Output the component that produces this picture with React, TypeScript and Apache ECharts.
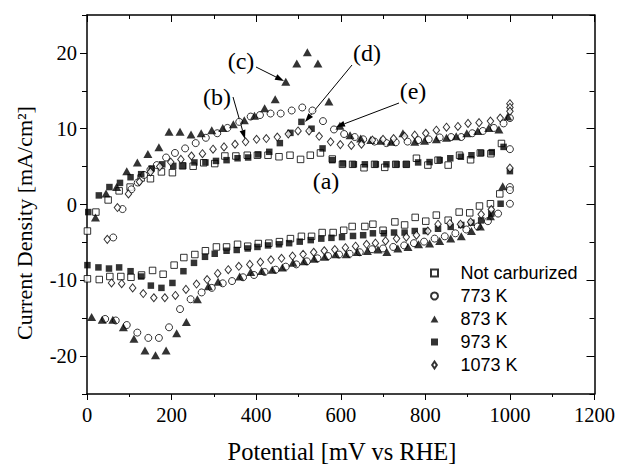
import React, { useEffect, useRef } from 'react';
import * as echarts from 'echarts';

// ---- data (potential in mV vs RHE, current density in mA/cm2) ----
const seriesNames = ['Not carburized', '773 K', '873 K', '973 K', '1073 K'];

const notCarbPotential = [1, 21, 50, 76, 102, 128, 150, 176, 202, 226, 251, 276, 302, 326, 352, 379, 403, 428, 454, 480, 505, 528, 552, 580, 604, 628, 655, 680, 704, 730, 755, 779, 806, 830, 854, 881, 907, 930, 955, 980,
  976, 954, 928, 905, 880, 854, 826, 801, 776, 751, 728, 700, 676, 657, 627, 607, 582, 556, 531, 507, 481, 455, 430, 405, 380, 356, 330, 306, 280, 255, 229, 206, 180, 155, 129, 104, 80, 54, 29, 1];
const notCarbCurrent = [-3.5, -1.0, 0.6, 1.8, 2.3, 3.5, 3.4, 4.3, 4.2, 5.1, 5.05, 5.5, 5.4, 6.4, 6.4, 6.5, 6.5, 6.5, 6.3, 6.5, 5.95, 6.5, 6.8, 6.0, 5.3, 5.3, 4.85, 5.3, 4.9, 5.3, 5.3, 6.1, 5.2, 5.85, 5.2, 6.5, 5.9, 6.8, 6.7, 8.05,
  1.4, 0.1, -0.2, -1.1, -1.0, -2.07, -1.4, -2.2, -1.7, -2.7, -2.3, -3.4, -2.6, -2.9, -2.9, -3.4, -3.7, -3.7, -4.2, -4.2, -4.5, -4.9, -5.1, -5.15, -5.5, -5.25, -5.6, -5.6, -6.1, -6.6, -7.0, -8.0, -9.2, -8.7, -9.3, -9.6, -9.5, -9.5, -9.9, -9.8];

const k773Potential = [62, 84, 105, 120, 135, 150, 165, 187, 208, 232, 257, 281, 308, 332, 360, 387, 409, 434, 458, 484, 509, 533, 558, 584, 608, 633, 653, 680, 708, 730, 758, 783, 808, 834, 861, 885, 911, 936, 962, 985, 1000, 1000, 1000, 1000, 1000,
  972, 948, 924, 897, 871, 846, 822, 797, 773, 750, 724, 700, 674, 645, 621, 596, 570, 545, 520, 495, 470, 446, 420, 395, 369, 343, 321, 295, 271, 245, 220, 194, 170, 145, 119, 94, 68, 43];
const k773Current = [-4.35, -0.6, 2.0, 2.9, 3.9, 4.6, 5.2, 6.2, 6.8, 7.4, 8.1, 8.8, 9.4, 10.1, 10.9, 11.6, 11.8, 12.0, 12.0, 12.4, 12.8, 12.4, 11.0, 9.9, 9.3, 8.9, 8.6, 8.3, 8.1, 8.2, 8.3, 8.5, 8.6, 8.85, 8.9, 8.9, 9.4, 9.7, 10.1, 10.7, 11.4, 7.3, 2.3, 1.9, 0.1,
  -1.2, -2.2, -2.9, -3.3, -3.8, -4.2, -4.5, -4.9, -5.1, -5.4, -5.6, -5.8, -5.9, -6.3, -6.5, -6.6, -6.8, -7.1, -7.5, -7.9, -8.2, -8.6, -8.9, -9.3, -9.6, -10.1, -10.4, -11.0, -11.6, -12.5, -13.8, -16.2, -17.6, -17.6, -16.9, -15.9, -15.3, -15.1];

const k873Potential = [20, 45, 70, 94, 119, 144, 170, 194, 220, 246, 270, 295, 321, 346, 372, 396, 420, 445, 470, 496, 521, 546, 572, 598, 622, 647, 671, 695, 719, 747, 775, 798, 826, 850, 873, 898, 924, 950, 974, 995,
  983, 954, 930, 909, 885, 860, 834, 810, 784, 759, 735, 709, 688, 663, 639, 613, 588, 562, 537, 513, 487, 462, 438, 413, 387, 361, 310, 287, 261, 235, 212, 187, 162, 137, 111, 86, 61, 36, 11];
const k873Current = [-1.7, 1.45, 2.3, 4.4, 5.55, 6.65, 7.55, 9.6, 9.6, 9.25, 9.4, 9.8, 10.1, 10.6, 11.1, 11.7, 12.7, 13.9, 16.2, 18.6, 20.1, 18.6, 13.6, 10.4, 9.15, 8.7, 8.5, 8.4, 8.27, 9.4, 8.27, 8.4, 8.6, 8.8, 9.0, 9.4, 9.7, 10.1, 9.9, 11.6,
  2.4, -1.55, -2.9, -3.5, -4.2, -4.5, -4.8, -5.15, -5.25, -5.6, -5.8, -6.26, -5.95, -6.15, -6.26, -6.57, -6.57, -6.9, -7.15, -7.5, -7.7, -8.3, -8.6, -8.77, -8.9, -9.5, -10.2, -10.8, -12.5, -15.5, -17.0, -19.25, -19.9, -19.25, -17.7, -16.2, -15.2, -15.2, -14.85];

const k973Potential = [3, 28, 53, 78, 103, 128, 153, 178, 204, 227, 254, 280, 305, 330, 356, 381, 405, 431, 456, 481, 507, 531, 557, 580, 605, 631, 657, 683, 708, 732, 755, 783, 810, 834, 859, 884, 909, 932, 957, 985, 1000,
  978, 956, 932, 909, 885, 860, 830, 801, 775, 751, 726, 702, 676, 653, 629, 603, 578, 554, 529, 503, 478, 454, 428, 403, 380, 354, 330, 302, 279, 253, 228, 202, 176, 151, 128, 103, 76, 52, 27, 1];
const k973Current = [-1.0, 1.2, 2.3, 2.85, 3.6, 4.0, 4.75, 5.3, 5.1, 5.1, 5.55, 5.55, 5.75, 5.85, 6.1, 6.2, 6.6, 6.95, 8.1, 9.45, 10.9, 10.0, 7.4, 5.85, 5.4, 5.3, 5.3, 5.3, 5.3, 5.3, 5.3, 5.55, 5.6, 5.85, 6.1, 6.3, 6.5, 6.8, 6.9, 7.6, 4.4,
  0.1, -1.2, -2.1, -2.4, -2.7, -2.95, -3.2, -3.5, -3.5, -3.7, -3.7, -3.8, -3.8, -4.05, -4.15, -4.3, -4.4, -4.5, -4.7, -4.9, -5.1, -5.25, -5.4, -5.6, -5.8, -6.0, -6.1, -6.5, -6.9, -7.7, -8.8, -10.35, -11.0, -10.7, -9.5, -8.8, -8.3, -8.45, -8.3, -8.0];

const k1073Potential = [48, 72, 98, 124, 150, 172, 198, 222, 247, 273, 298, 324, 350, 375, 401, 424, 450, 476, 499, 525, 549, 576, 599, 625, 649, 675, 700, 725, 751, 775, 801, 826, 850, 877, 901, 927, 954, 977, 1000, 1000, 1000, 1000,
  956, 932, 907, 883, 858, 830, 806, 779, 755, 732, 706, 682, 661, 635, 611, 586, 561, 536, 511, 486, 460, 435, 410, 385, 359, 334, 309, 284, 259, 234, 209, 184, 158, 133, 108, 82, 58];
const k1073Current = [-4.6, -0.4, 1.4, 3.0, 4.3, 5.0, 5.6, 5.95, 6.4, 6.7, 7.3, 7.6, 7.95, 8.27, 8.6, 8.7, 8.9, 9.3, 9.7, 9.7, 9.0, 8.27, 7.9, 7.8, 7.95, 8.5, 8.6, 8.7, 9.0, 9.15, 9.4, 9.8, 10.2, 10.3, 10.7, 10.8, 11.0, 11.4, 13.3, 12.8, 12.3, 4.8,
  -0.66, -1.3, -2.3, -2.6, -2.5, -2.6, -3.5, -4.05, -4.3, -4.5, -4.8, -5.1, -5.25, -5.5, -5.7, -5.95, -6.1, -6.3, -6.57, -6.8, -7.1, -7.3, -7.6, -7.9, -8.15, -8.6, -9.1, -9.9, -10.5, -11.2, -12.0, -12.3, -12.3, -11.75, -11.0, -10.45, -10.35];

const xTickLabels = [0, 200, 400, 600, 800, 1000, 1200];
const yTickLabels = [-20, -10, 0, 10, 20];

// annotation layout (pixels)
const annotations = [
  { text: '(a)', x: 326, y: 181 },
  { text: '(b)', x: 217, y: 97 },
  { text: '(c)', x: 241, y: 61 },
  { text: '(d)', x: 367, y: 53 },
  { text: '(e)', x: 413, y: 91 },
];
const arrows = [
  [233, 97, 245, 139],
  [256, 67, 284, 81],
  [352, 65, 305, 122],
  [399, 103, 336, 127],
];

const zip = (a: number[], b: number[]) => a.map((v, i) => [v, b[i]]);

function arrowEls(x1: number, y1: number, x2: number, y2: number) {
  const dx = x2 - x1, dy = y2 - y1;
  const L = Math.hypot(dx, dy);
  const ux = dx / L, uy = dy / L;
  const hl = 9, hw = 3;
  const bx = x2 - ux * hl, by = y2 - uy * hl;
  return [
    { type: 'line', shape: { x1, y1, x2: bx, y2: by }, style: { stroke: '#000', lineWidth: 1 } },
    { type: 'polygon', shape: { points: [[x2, y2], [bx - uy * hw, by + ux * hw], [bx + uy * hw, by - ux * hw]] }, style: { fill: '#000' } },
  ];
}

const SERIF = '"Liberation Serif", "Times New Roman", serif';
const SANS = '"Liberation Sans", Arial, sans-serif';

export default function App() {
  const ref = useRef<HTMLDivElement>(null);
  useEffect(() => {
    if (!ref.current) return;
    const chart = echarts.init(ref.current, undefined, { renderer: 'svg' });
    const axisLine = { onZero: false, lineStyle: { color: '#000', width: 1.5 } };
    const tickStyle = { color: '#000', width: 1 };
    const labelStyle = { fontFamily: SERIF, fontSize: 20.5, color: '#000', margin: 10 };
    const open = { color: '#fff', borderColor: '#000', borderWidth: 1 };
    const filled = { color: '#000', borderColor: '#000', borderWidth: 0 };
    const graphics: any[] = [
      { type: 'text', x: 24, y: 223, rotation: Math.PI / 2, style: { text: 'Current Density [mA/cm²]', font: '22px ' + SERIF, fill: '#000', align: 'center', verticalAlign: 'middle' } },
      { type: 'text', x: 342, y: 451, style: { text: 'Potential [mV vs RHE]', font: '24.5px ' + SERIF, fill: '#000', align: 'center', verticalAlign: 'middle' } },
    ];
    annotations.forEach((a) => graphics.push({ type: 'text', x: a.x, y: a.y, style: { text: a.text, font: '24px ' + SERIF, fill: '#000', align: 'center', verticalAlign: 'middle' } }));
    arrows.forEach((a) => graphics.push(...arrowEls(a[0], a[1], a[2], a[3])));

    chart.setOption({
      animation: false,
      backgroundColor: '#fff',
      grid: { left: 87, right: 23, top: 15, bottom: 70, containLabel: false },
      xAxis: [
        {
          type: 'value', position: 'bottom', min: 0, max: 1200, interval: 200,
          axisLine, axisTick: { length: 6, lineStyle: tickStyle },
          minorTick: { show: true, splitNumber: 2, length: 3, lineStyle: tickStyle },
          axisLabel: { ...labelStyle, formatter: (v: number) => (xTickLabels.includes(v) ? String(v) : '') },
          splitLine: { show: false },
        },
        {
          type: 'value', position: 'top', min: 0, max: 1200, interval: 200,
          axisLine, axisTick: { inside: true, length: 7, lineStyle: tickStyle },
          minorTick: { show: true, splitNumber: 2, length: 4, lineStyle: tickStyle },
          axisLabel: { show: false }, splitLine: { show: false },
        },
      ],
      yAxis: [
        {
          type: 'value', position: 'left', min: -25, max: 25, interval: 5,
          axisLine, axisTick: { length: 5, lineStyle: tickStyle },
          axisLabel: { ...labelStyle, formatter: (v: number) => (yTickLabels.includes(v) ? String(v) : '') },
          splitLine: { show: false },
        },
        {
          type: 'value', position: 'left', min: -25, max: 25, interval: 5,
          axisLine: { show: false, onZero: false }, axisTick: { length: 7, lineStyle: tickStyle, customValues: yTickLabels },
          axisLabel: { show: false }, splitLine: { show: false },
        },
        {
          type: 'value', position: 'right', min: -25, max: 25, interval: 5,
          axisLine, axisTick: { inside: true, length: 5, lineStyle: tickStyle },
          axisLabel: { show: false }, splitLine: { show: false },
        },
        {
          type: 'value', position: 'right', min: -25, max: 25, interval: 5,
          axisLine: { show: false, onZero: false }, axisTick: { inside: true, length: 8, lineStyle: tickStyle, customValues: yTickLabels },
          axisLabel: { show: false }, splitLine: { show: false },
        },
      ],
      legend: {
        orient: 'vertical', left: 430, top: 264, itemWidth: 42, itemHeight: 7, itemGap: 5, padding: 0,
        symbolKeepAspect: true,
        textStyle: { fontFamily: SANS, fontSize: 18, color: '#000', lineHeight: 18 },
        data: [
          { name: seriesNames[0], icon: 'path://M0,0H10V10H0Z' },
          { name: seriesNames[1], icon: 'circle' },
          { name: seriesNames[2], icon: 'path://M5,0L10,9L0,9Z' },
          { name: seriesNames[3], icon: 'path://M0,0H10V10H0Z' },
          { name: seriesNames[4], icon: 'path://M5,0L9,6L5,12L1,6Z' },
        ],
      },
      graphic: graphics,
      series: [
        { name: seriesNames[0], type: 'scatter', symbol: 'rect', symbolSize: 6.5, itemStyle: open, data: zip(notCarbPotential, notCarbCurrent) },
        { name: seriesNames[1], type: 'scatter', symbol: 'circle', symbolSize: 7, itemStyle: open, data: zip(k773Potential, k773Current) },
        { name: seriesNames[2], type: 'scatter', symbol: 'triangle', symbolSize: [9, 8], itemStyle: filled, data: zip(k873Potential, k873Current) },
        { name: seriesNames[3], type: 'scatter', symbol: 'rect', symbolSize: 6.5, itemStyle: filled, data: zip(k973Potential, k973Current) },
        { name: seriesNames[4], type: 'scatter', symbol: 'diamond', symbolSize: [6.5, 8], itemStyle: open, data: zip(k1073Potential, k1073Current) },
      ],
    });
    return () => chart.dispose();
  }, []);
  return <div ref={ref} style={{ position: 'fixed', left: 0, top: 0, width: 618, height: 464, background: '#fff' }} />;
}
